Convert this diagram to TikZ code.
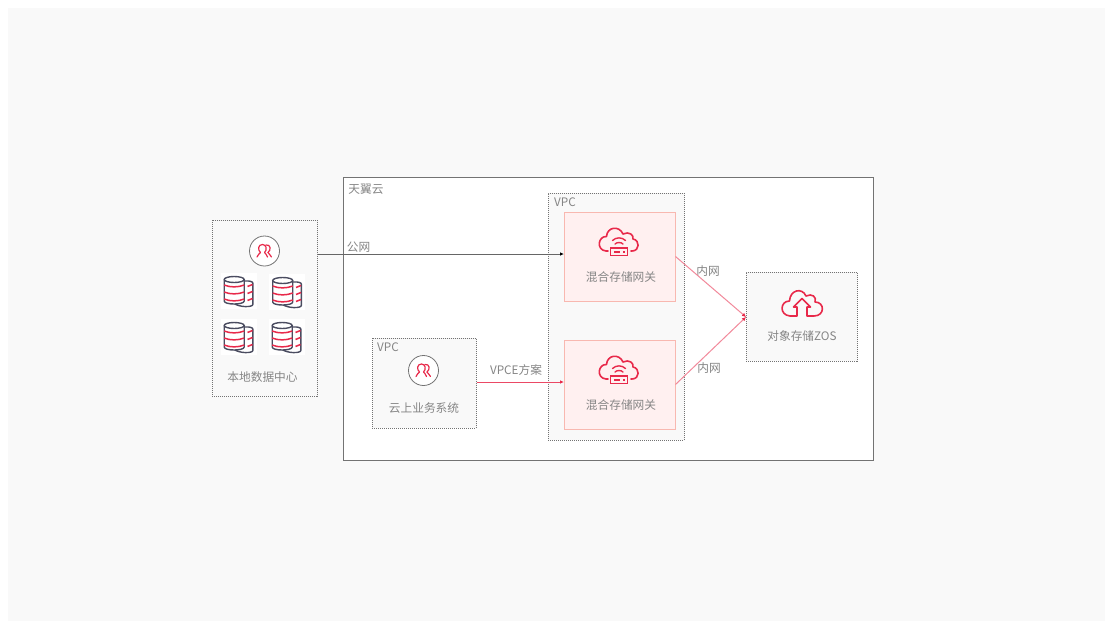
\documentclass[tikz,border=0pt]{standalone}
\usepackage{fontspec}
\setmainfont{Noto Sans CJK SC}
\usetikzlibrary{positioning, arrows.meta}

\definecolor{zosred}{HTML}{E8294A}
\definecolor{zosgray}{HTML}{858585}
\definecolor{zosdark}{HTML}{4A4C60}
\definecolor{gatefill}{HTML}{FFF0F0}
\definecolor{gateline}{HTML}{F8B8B0}

\tikzset{
    dotbox/.style={draw=black!55, line width=0.8pt, dash pattern=on 1pt off 1pt, fill=#1, inner sep=0pt, anchor=north west},
    dotbox/.default={black!2.5},
    gatebox/.style={draw=gateline, line width=1pt, fill=gatefill, inner sep=0pt, minimum width=111pt, minimum height=89pt},
    txt/.style={text=zosgray, font=\fontsize{11.7}{13}\selectfont, inner sep=0pt},
    icon/.style={draw=zosred, line width=1.6pt, line cap=round, line join=round},
    publine/.style={draw=black!60, line width=1pt, -{Latex[length=4pt,width=3.5pt,black]}},
    redline/.style={draw=zosred!85, line width=0.8pt, -{Latex[length=4pt,width=3.5pt,zosred]}},
    inline/.style={draw=zosred!55, line width=1pt, -{Latex[length=4pt,width=4pt,zosred]}},
    pics/people/.style={code={
        \node[circle, draw=black!55, fill=white, line width=0.8pt, minimum size=30pt, inner sep=0pt] {};
        \draw[draw=zosred, line width=1.2pt, line cap=round, line join=round]
            (-7.5,6) .. controls (-7,3) and (-4.5,3) .. (-4,1.5)
            .. controls (-7,-1) and (-6.5,-6.5) .. (-2,-6.5)
            .. controls (2,-6.5) and (3,-1) .. (0,1.5)
            .. controls (0.5,3) and (2.5,3) .. (3,6);
        \draw[draw=zosred, line width=1.2pt, line cap=round]
            (1.5,-6) .. controls (6,-7) and (7,-1) .. (3.5,1.5)
            .. controls (4,3) and (6,3.5) .. (7,6);
    }},
    pics/dbstack/.style={code={
        \fill[white] (-18,-18) rectangle (18,18);
        \draw[draw=zosdark, line width=1.4pt, fill=white]
            (5.7,-10) .. controls (12,-10.5) and (14.3,-9) .. (14.3,-8) -- (14.3,13.5)
            .. controls (14.3,16.5) and (0,16.5) .. (-5,12);
        \draw[draw=zosdark, line width=1.4pt, fill=white]
            (-14.3,-11) -- (-14.3,10) .. controls (-14.3,14) and (5.7,14) .. (5.7,10) -- (5.7,-11);
        \draw[draw=zosdark, line width=1.4pt, fill=white] (-4.3,-11.5) ellipse (10 and 3);
        \foreach \ypos in {-6,1,8} {
            \draw[draw=zosred, line width=1.5pt] (-14.3,\ypos) .. controls (-9,{\ypos+2.5}) and (0,{\ypos+2.5}) .. (5.7,\ypos);
            \draw[draw=zosred, line width=1.5pt] (9,{\ypos+1.5}) -- (14,{\ypos-0.5});
        }
    }},
    pics/cloudgate/.style={code={
        \draw[icon] (-11,11) -- (-13,11) .. controls (-23,10) and (-21,-4) .. (-12.5,-3.5)
            .. controls (-12,-13) and (0,-15) .. (4,-6)
            .. controls (10,-9) and (15,-5) .. (14,-1)
            .. controls (21,0) and (21,11) .. (13,11) -- (12,11);
        \draw[draw=zosred, line width=1.4pt, fill=none] (-8.5,8) rectangle (8.5,15.5);
        \fill[zosred] (-5.5,11) rectangle (1,12.5);
        \fill[zosred] (4,11) rectangle (6,12.5);
        \draw[draw=zosred, line width=1.4pt, line cap=round] (-6.5,0.5) .. controls (-3,-3) and (3,-3) .. (6.5,0.5);
        \draw[draw=zosred, line width=1.4pt, line cap=round] (-4,4) .. controls (-2,2) and (2,2) .. (4,4);
    }},
    pics/cloudup/.style={code={
        \draw[icon] (-5,14) -- (-12,14) .. controls (-23,13) and (-22,-1) .. (-12.5,-1)
            .. controls (-12,-12) and (0,-15) .. (4,-6)
            .. controls (10,-9) and (15,-5) .. (13,0)
            .. controls (23,0) and (23,14) .. (12,14)
            -- (5,14) -- (5,5) -- (8.5,5) -- (0,-3.5) -- (-8.5,5) -- (-5,5) .. controls (-5,9) and (-5,12) .. (-5,14);
    }},
}

\begin{document}
\begin{tikzpicture}[x=1pt, y=-1pt]
    \useasboundingbox (0,0) rectangle (1105,621);
    \fill[black!2.5] (8,8) rectangle (1105,621);

    % boxes
    \node[draw=black!55, line width=1pt, fill=white, inner sep=0pt, anchor=north west, minimum width=530pt, minimum height=283pt] (cloud) at (343,177) {};
    \node[dotbox, minimum width=105pt, minimum height=176pt] (dc) at (212,220) {};
    \node[dotbox, minimum width=104pt, minimum height=90pt] (bizvpc) at (372,338) {};
    \node[dotbox, minimum width=136pt, minimum height=247pt] (gatevpc) at (548,193) {};
    \node[gatebox] (gatea) at (619.5,256.5) {};
    \node[gatebox] (gateb) at (619.5,384.5) {};
    \node[dotbox, minimum width=111pt, minimum height=89pt] (zos) at (746,272) {};

    % icons
    \pic at (264.5,251) {people};
    \pic at (423.5,370.5) {people};
    \pic at (238.5,291) {dbstack};
    \pic at (287,292) {dbstack};
    \pic at (238.5,337) {dbstack};
    \pic at (286.5,337) {dbstack};
    \pic at (619,240) {cloudgate};
    \pic at (619,368) {cloudgate};
    \pic at (802,302) {cloudup};

    % texts
    \node[txt] (cloudlbl) at (366,189) {天翼云};
    \node[txt] (bizvpclbl) at (388,347) {VPC};
    \node[txt] (gatevpclbl) at (565,202) {VPC};
    \node[txt] (dclbl) at (262.5,377) {本地数据中心};
    \node[txt] (bizlbl) at (424,408) {云上业务系统};
    \node[txt] (gatealbl) at (621,277) {混合存储网关};
    \node[txt] (gateblbl) at (621,405) {混合存储网关};
    \node[txt] (zoslbl) at (802,336) {对象存储ZOS};
    \node[txt] (publbl) at (358.5,247) {公网};
    \node[txt] (vpcelbl) at (516,370) {VPCE方案};
    \node[txt] (inalbl) at (708,271) {内网};
    \node[txt] (inblbl) at (709,368) {内网};

    % connectors
    \coordinate (pubend) at (564,254);
    \coordinate (vpceend) at (564,382);
    \coordinate (zosin) at (746,317);
    \draw[publine] (dc.east |- pubend) -- (pubend);
    \draw[redline] (bizvpc.east |- vpceend) -- (vpceend);
    \draw[inline] (gatea.east) -- (zosin);
    \draw[inline] (gateb.east) -- (zosin);
\end{tikzpicture}
\end{document}
